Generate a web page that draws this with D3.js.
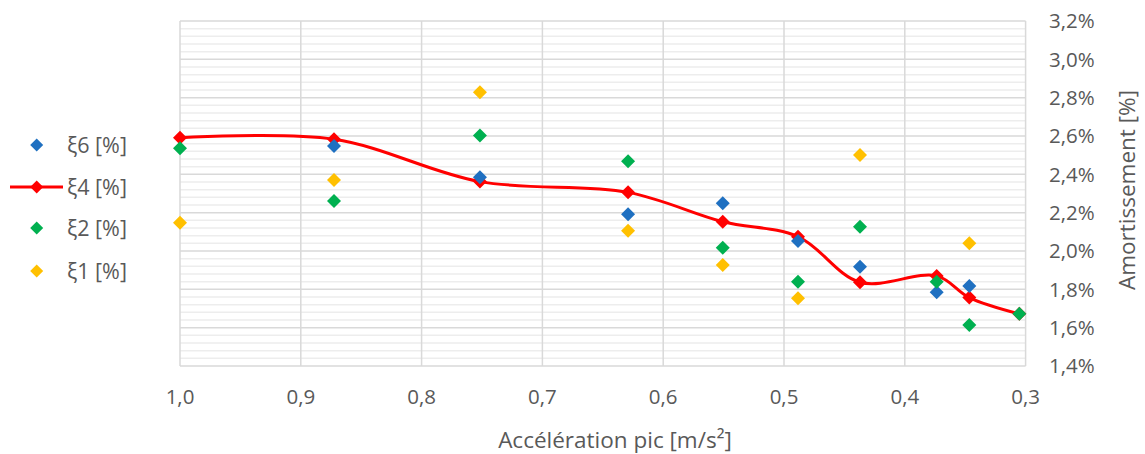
<!DOCTYPE html>
<html><head><meta charset="utf-8">
<script src="https://cdn.jsdelivr.net/npm/d3@7"></script>
<style>
html,body{margin:0;padding:0;background:#fff;}
text{font-family:"Open Sans","DejaVu Sans",sans-serif;fill:#595959;}
</style></head>
<body>
<svg id="chart" width="1145" height="454"></svg>
<script>
// Data
const accel = [1.0, 0.8725, 0.7517, 0.6291, 0.5507, 0.4884, 0.4371, 0.3736, 0.3466, 0.3052];
const xi6 = [null, 2.548, 2.385, 2.192, 2.249, 2.052, 1.918, 1.785, 1.818, null];
const xi4 = [2.591, 2.583, 2.362, 2.306, 2.153, 2.075, 1.837, 1.870, 1.757, 1.672];
const xi2 = [2.536, 2.261, 2.602, 2.468, 2.017, 1.840, 2.127, 1.840, 1.614, 1.672];
const xi1 = [2.148, 2.371, 2.828, 2.106, 1.927, 1.753, 2.501, null, 2.040, null];
const xTicks = [1.0, 0.9, 0.8, 0.7, 0.6, 0.5, 0.4, 0.3];
const yTicks = [1.4, 1.6, 1.8, 2.0, 2.2, 2.4, 2.6, 2.8, 3.0, 3.2];
const seriesNames = ["ξ6 [%]", "ξ4 [%]", "ξ2 [%]", "ξ1 [%]"];
const colors = {xi6:"#1F70C1", xi4:"#FF0000", xi2:"#00B050", xi1:"#FFC000"};

const svg = d3.select("#chart");
const L = 180, R = 1025.6, T = 21, B = 366;
const x = d3.scaleLinear().domain([1.0, 0.3]).range([L, R]);
const y = d3.scaleLinear().domain([1.4, 3.2]).range([B, T]);
const fmt = v => v.toFixed(1).replace(".", ",");

// minor horizontal gridlines
const minor = d3.range(0, 46).map(i => 1.4 + i * 0.04).filter(v => Math.abs((v - 1.4) / 0.2 - Math.round((v - 1.4) / 0.2)) > 1e-6);
svg.append("g").selectAll("line").data(minor).join("line")
  .attr("x1", L).attr("x2", R).attr("y1", d => y(d)).attr("y2", d => y(d))
  .attr("stroke", "#EDEDED").attr("stroke-width", 1.5);
// major horizontal
svg.append("g").selectAll("line").data(yTicks).join("line")
  .attr("x1", L).attr("x2", R).attr("y1", d => y(d)).attr("y2", d => y(d))
  .attr("stroke", "#D9D9D9").attr("stroke-width", 1.5);
// major vertical
svg.append("g").selectAll("line").data(xTicks).join("line")
  .attr("x1", d => x(d)).attr("x2", d => x(d)).attr("y1", T).attr("y2", B)
  .attr("stroke", "#D9D9D9").attr("stroke-width", 1.5);

// axis labels
svg.append("g").selectAll("text").data(yTicks).join("text")
  .attr("x", 1049).attr("y", d => y(d)).attr("dy", "0.35em")
  .attr("font-size", 20.5).text(d => fmt(d) + "%");
svg.append("g").selectAll("text").data(xTicks).join("text")
  .attr("x", d => x(d)).attr("y", 397).attr("dy", "0.35em").attr("text-anchor", "middle")
  .attr("font-size", 20.5).text(d => fmt(d));

svg.append("text").attr("x", 615).attr("y", 440).attr("dy", "0.35em").attr("text-anchor", "middle")
  .attr("font-size", 22.5).text("Accélération pic [m/s²]");
svg.append("text").attr("transform", "translate(1127,190) rotate(-90)").attr("dy", "0.35em")
  .attr("text-anchor", "middle").attr("font-size", 22.5).text("Amortissement [%]");

const diamond = (g, cx, cy, s, c) => g.append("path")
  .attr("d", `M${cx},${cy - s}L${cx + s},${cy}L${cx},${cy + s}L${cx - s},${cy}Z`).attr("fill", c);

// red smooth line
const pts4 = accel.map((a, i) => [a, xi4[i]]);
svg.append("path").datum(pts4)
  .attr("d", d3.line().x(d => x(d[0])).y(d => y(d[1])).curve(d3.curveCatmullRom.alpha(0.5)))
  .attr("fill", "none").attr("stroke", colors.xi4).attr("stroke-width", 3);
const gm = svg.append("g");
pts4.forEach(d => diamond(gm, x(d[0]), y(d[1]), 7, colors.xi4));
[[xi6, colors.xi6], [xi2, colors.xi2], [xi1, colors.xi1]].forEach(([arr, c]) => {
  accel.forEach((a, i) => { if (arr[i] != null) diamond(gm, x(a), y(arr[i]), 7, c); });
});

// legend
const leg = svg.append("g");
const ly = [145, 187, 228, 271];
const lc = [colors.xi6, colors.xi4, colors.xi2, colors.xi1];
seriesNames.forEach((n, i) => {
  if (i === 1) leg.append("line").attr("x1", 10).attr("x2", 63).attr("y1", ly[i]).attr("y2", ly[i])
    .attr("stroke", colors.xi4).attr("stroke-width", 3);
  diamond(leg, 36.7, ly[i], 6.5, lc[i]);
  leg.append("text").attr("x", 67).attr("y", ly[i]).attr("dy", "0.35em").attr("font-size", 21.5).text(n);
});
</script>
</body></html>
